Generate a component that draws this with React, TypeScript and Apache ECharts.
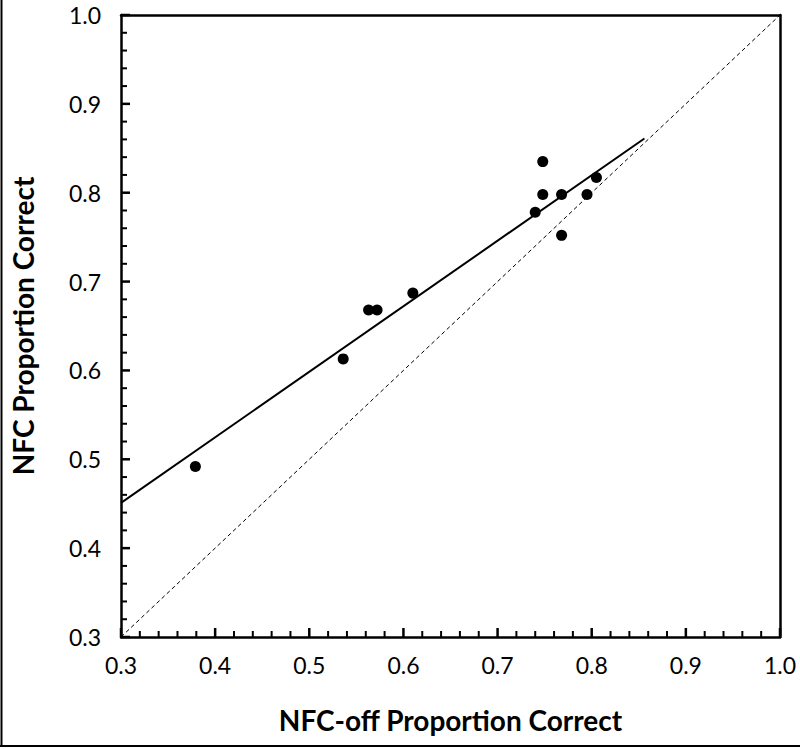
import React, { useEffect, useRef } from "react";
import * as echarts from "echarts";

const xValues = [0.379, 0.536, 0.563, 0.572, 0.61, 0.74, 0.748, 0.748, 0.768, 0.768, 0.795, 0.805];
const yValues = [0.492, 0.613, 0.668, 0.668, 0.687, 0.778, 0.835, 0.798, 0.798, 0.752, 0.798, 0.817];
const trendX = [0.3, 0.856];
const trendY = [0.451, 0.861];
const diagX = [0.3, 1.0];
const diagY = [0.3, 1.0];
const tickLabels = ["0.3", "0.4", "0.5", "0.6", "0.7", "0.8", "0.9", "1.0"];
const xTitle = "NFC-off Proportion Correct";
const yTitle = "NFC Proportion Correct";

const FONT = "Lato";
const AXIS_MIN = 0.3;
const AXIS_MAX = 1.0;

export default function App() {
  const ref = useRef<HTMLDivElement>(null);
  useEffect(() => {
    const chart = echarts.init(ref.current!, null, { renderer: "svg" });

    // tick positions: majors from the tick labels, minors every 0.02
    const tickVals: number[] = [];
    for (let i = 0; i <= 35; i++) tickVals.push(Math.round((AXIS_MIN + i * 0.02) * 100) / 100);
    const majorSet = new Set(tickLabels.map((t) => Number(t)));

    const mkAxis = (name: string, nameGap: number, margin: number) => ({
      type: "value",
      min: AXIS_MIN,
      max: AXIS_MAX,
      interval: 0.1,
      name,
      nameLocation: "middle",
      nameGap,
      nameTextStyle: { color: "#000", fontSize: 28, fontWeight: "bold", fontFamily: FONT },
      axisLine: { show: true, lineStyle: { color: "#000", width: 2.5 } },
      axisTick: { show: false },
      splitLine: { show: false },
      axisLabel: {
        show: true,
        color: "#000",
        fontSize: 23,
        fontFamily: FONT,
        margin,
        formatter: (v: number) => v.toFixed(1),
      },
    });

    const tickSeries = (horizontal: boolean) => ({
      type: "custom",
      silent: true,
      clip: false,
      z: 5,
      data: tickVals.map((v) => (horizontal ? [v, AXIS_MIN] : [AXIS_MIN, v])),
      renderItem: (_params: any, api: any) => {
        const vx = api.value(0);
        const vy = api.value(1);
        const v = horizontal ? vx : vy;
        const major = majorSet.has(v);
        const len = major ? 9 : 6;
        const p = api.coord([vx, vy]);
        return {
          type: "line",
          shape: horizontal
            ? { x1: p[0], y1: p[1], x2: p[0], y2: p[1] - len }
            : { x1: p[0], y1: p[1], x2: p[0] + len, y2: p[1] },
          style: { stroke: "#000", lineWidth: major ? 2.5 : 2 },
        };
      },
    });

    chart.setOption({
      animation: false,
      backgroundColor: "#fff",
      grid: {
        left: 121,
        top: 15,
        right: 20,
        bottom: 112,
        outerBoundsMode: "none",
      },
      xAxis: [
        mkAxis(xTitle, 69, 16),
        {
          type: "value", min: AXIS_MIN, max: AXIS_MAX, interval: 0.1, position: "top",
          axisLine: { show: true, lineStyle: { color: "#000", width: 2.5 } },
          axisTick: { show: false }, axisLabel: { show: false }, splitLine: { show: false },
        },
      ],
      yAxis: [
        mkAxis(yTitle, 84, 20),
        {
          type: "value", min: AXIS_MIN, max: AXIS_MAX, interval: 0.1, position: "right",
          axisLine: { show: true, lineStyle: { color: "#000", width: 2.5 } },
          axisTick: { show: false }, axisLabel: { show: false }, splitLine: { show: false },
        },
      ],
      graphic: [
        { type: "line", shape: { x1: 1.5, y1: 0, x2: 1.5, y2: 747 }, style: { stroke: "#000", lineWidth: 2 } },
        { type: "line", shape: { x1: 0, y1: 746, x2: 800, y2: 746 }, style: { stroke: "#000", lineWidth: 2 } },
      ],
      series: [
        tickSeries(true),
        tickSeries(false),
        {
          type: "line",
          data: diagX.map((x, i) => [x, diagY[i]]),
          symbol: "none",
          lineStyle: { color: "#000", width: 1, type: [4, 3] },
          silent: true,
        },
        {
          type: "line",
          data: trendX.map((x, i) => [x, trendY[i]]),
          symbol: "none",
          lineStyle: { color: "#000", width: 2 },
          silent: true,
        },
        {
          type: "scatter",
          data: xValues.map((x, i) => [x, yValues[i]]),
          symbol: "circle",
          symbolSize: 11,
          itemStyle: { color: "#000", opacity: 1 },
        },
      ],
    });
    return () => chart.dispose();
  }, []);
  return (
    <div
      ref={ref}
      style={{ position: "fixed", left: 0, top: 0, width: 800, height: 749 }}
    />
  );
}
